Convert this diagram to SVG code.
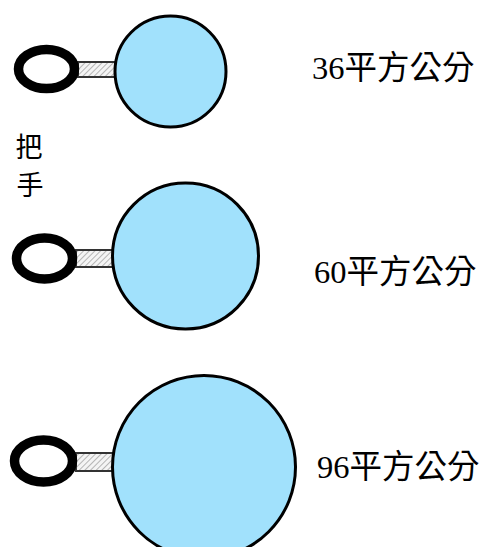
<svg xmlns="http://www.w3.org/2000/svg" width="486" height="547" viewBox="0 0 486 547">
  <defs>
    <pattern id="hatch" width="4" height="4" patternUnits="userSpaceOnUse" patternTransform="rotate(45)">
      <rect width="4" height="4" fill="#f4f4f4"/>
      <line x1="0" y1="0" x2="0" y2="4" stroke="#777" stroke-width="1"/>
    </pattern>
    <style>
      .ring { fill: #ffffff; stroke: #000000; stroke-width: 9.5; }
      .bar { fill: url(#hatch); stroke: #333333; stroke-width: 2; }
      .disc { fill: #a1e1fc; stroke: #000000; stroke-width: 3; }
      .label { font-size: 32.5px; fill: #000000; }
      .num { font-family: "Liberation Serif", serif; }
      .cjk { font-family: "Noto Sans CJK TC", "Noto Sans CJK SC", sans-serif; }
      .side { font-family: "Noto Sans CJK TC", "Noto Sans CJK SC", sans-serif; font-size: 27px; fill: #000000; }
    </style>
  </defs>

  <rect width="486" height="547" fill="#ffffff"/>

  <!-- small racket, 36 cm² -->
  <g id="racket-small">
    <rect class="bar" x="78" y="62" width="37" height="15"/>
    <ellipse class="ring" cx="46.5" cy="69" rx="28" ry="19.5"/>
    <circle class="disc" cx="170.5" cy="71.5" r="55.5"/>
  </g>

  <!-- medium racket, 60 cm² -->
  <g id="racket-medium">
    <rect class="bar" x="76" y="250" width="37" height="17"/>
    <ellipse class="ring" cx="44.5" cy="258.5" rx="28" ry="20.5"/>
    <circle class="disc" cx="185.5" cy="256" r="73"/>
  </g>

  <!-- large racket, 96 cm² -->
  <g id="racket-large">
    <rect class="bar" x="76" y="453" width="37" height="18"/>
    <ellipse class="ring" cx="43.5" cy="461" rx="29" ry="21"/>
    <circle class="disc" cx="204" cy="467" r="91.5"/>
  </g>

  <!-- handle caption -->
  <g id="handle-label">
    <text class="side" x="29" y="157" text-anchor="middle">把</text>
    <text class="side" x="30" y="195" text-anchor="middle">手</text>
  </g>

  <!-- area labels -->
  <g id="area-36">
    <text class="label" x="312" y="79"><tspan class="num">36</tspan><tspan class="cjk">平方公分</tspan></text>
  </g>
  <g id="area-60">
    <text class="label" x="314" y="283"><tspan class="num">60</tspan><tspan class="cjk">平方公分</tspan></text>
  </g>
  <g id="area-96">
    <text class="label" x="317" y="478"><tspan class="num">96</tspan><tspan class="cjk">平方公分</tspan></text>
  </g>
</svg>
